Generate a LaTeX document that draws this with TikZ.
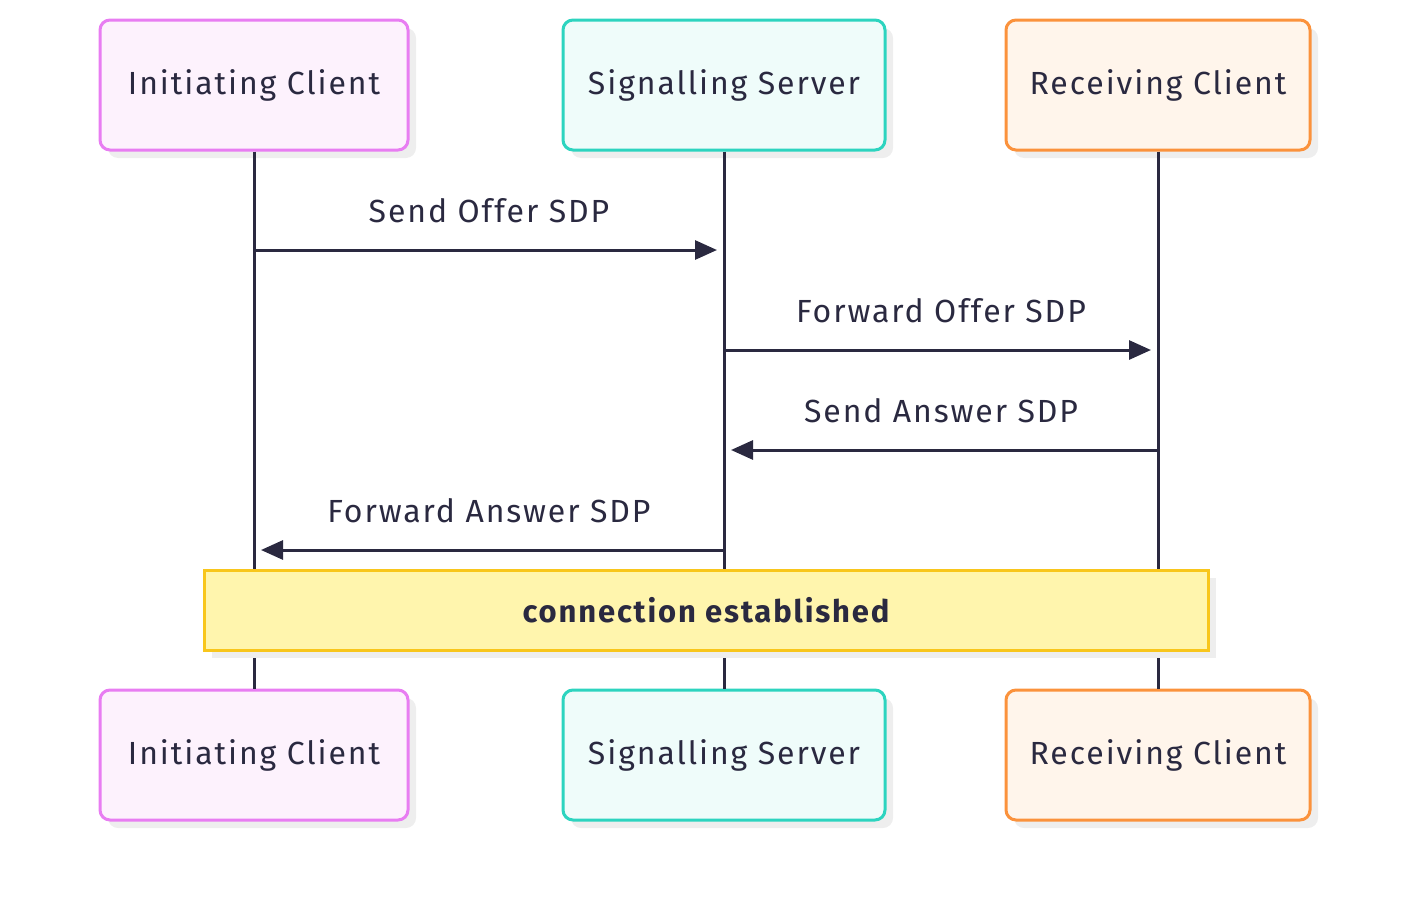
\documentclass[tikz,border=0pt]{standalone}
\usepackage{fontspec}
\setmainfont{Fira Sans}[LetterSpace=6]
\usepackage{tikz}
\usetikzlibrary{arrows.meta,shadows}
\definecolor{ink}{HTML}{2A2940}
\definecolor{pinkline}{HTML}{E87DF2}
\definecolor{pinkfill}{HTML}{FDF2FD}
\definecolor{tealline}{HTML}{2DD4BF}
\definecolor{tealfill}{HTML}{EFFCFA}
\definecolor{orangeline}{HTML}{FB923C}
\definecolor{orangefill}{HTML}{FFF5EB}
\definecolor{noteline}{HTML}{F8C61C}
\definecolor{notefill}{HTML}{FFF5AD}
\definecolor{shade}{HTML}{EEEEEE}

\begin{document}
\begin{tikzpicture}[x=1pt,y=-1pt]
\useasboundingbox (0,0) rectangle (1410,902);
\begin{scope}[every node/.style={rectangle,rounded corners=10pt,line width=3pt,
              minimum width=308pt,minimum height=130pt,text=ink,font=\fontsize{32}{38}\selectfont,
              drop shadow={shadow xshift=8pt,shadow yshift=-8pt,fill=shade,opacity=1}}]
    \node[draw=pinkline,fill=pinkfill] (ic) at (254,85) {Initiating Client};
    \node[draw=tealline,fill=tealfill,minimum width=322pt] (ss) at (724,85) {Signalling Server};
    \node[draw=orangeline,fill=orangefill,minimum width=304pt] (rc) at (1158,85) {Receiving Client};
    \node[draw=pinkline,fill=pinkfill] (icb) at (254,755) {Initiating Client};
    \node[draw=tealline,fill=tealfill,minimum width=322pt] (ssb) at (724,755) {Signalling Server};
    \node[draw=orangeline,fill=orangefill,minimum width=304pt] (rcb) at (1158,755) {Receiving Client};
\end{scope}

\begin{scope}[every edge/.style={draw=ink,line width=3pt}]
    \path [-] (ic) edge (icb);
    \path [-] (ss) edge (ssb);
    \path [-] (rc) edge (rcb);
\end{scope}

\coordinate (ic1) at (254,250);
\coordinate (ss1) at (724,250);
\coordinate (ss2) at (724,350);
\coordinate (rc2) at (1158,350);
\coordinate (rc3) at (1158,450);
\coordinate (ss3) at (724,450);
\coordinate (ss4) at (724,550);
\coordinate (ic4) at (254,550);

\begin{scope}[>={Triangle[length=22pt,width=19pt]},
              every node/.style={text=ink,font=\fontsize{32}{38}\selectfont},
              every edge/.style={draw=ink,line width=3pt,shorten >=7pt}]
    \path [->] (ic1) edge node[above=22pt] {Send Offer SDP} (ss1);
    \path [->] (ss2) edge node[above=22pt] {Forward Offer SDP} (rc2);
    \path [->] (rc3) edge node[above=22pt] {Send Answer SDP} (ss3);
    \path [->] (ss4) edge node[above=22pt] {Forward Answer SDP} (ic4);
\end{scope}

\node[draw=noteline,fill=notefill,line width=3pt,minimum width=1004pt,minimum height=80pt,
      text=ink,font=\fontsize{31}{37}\selectfont\bfseries,
      drop shadow={shadow xshift=8pt,shadow yshift=-8pt,fill=shade,opacity=1}]
      (note) at (706,610) {connection established};
\end{tikzpicture}
\end{document}
